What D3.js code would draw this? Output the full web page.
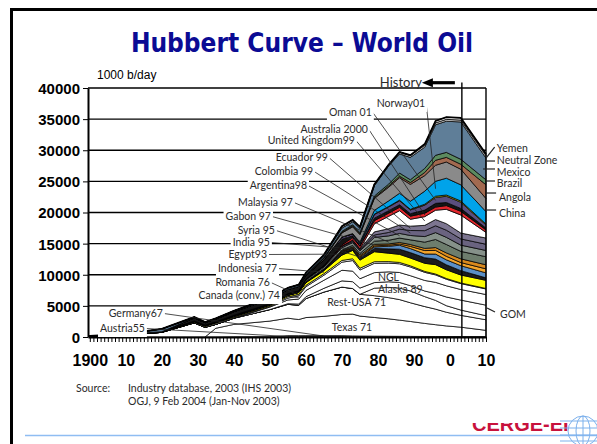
<!DOCTYPE html>
<html lang="en">
<head>
<meta charset="UTF-8">
<title>Hubbert Curve – World Oil</title>
<style>
  body { margin: 0; background: #fff; }
  svg { display: block; }
  .lbl { font-family: Lato, "DejaVu Sans Condensed", sans-serif; font-size: 10.5px; fill: #2b2b2b; }
  .axis text { font-family: "Liberation Sans", Arial, sans-serif; font-weight: bold; fill: #000; }
</style>
</head>
<body>
<svg id="chart" width="597" height="444"></svg>
<script src="https://d3js.org/d3.v7.min.js"></script>
<script>
// production in 1000 b/day
const years = [1900, 1910, 1920, 1929, 1932, 1935, 1940, 1950, 1955, 1958, 1960, 1965, 1970, 1973, 1975, 1979, 1983, 1986, 1989, 1993, 1996, 1999, 2003, 2010];

const austria   = [0, 0, 0, 0, 0, 0, 5, 30, 160, 130, 110, 90, 80, 60, 50, 40, 30, 30, 25, 20, 20, 20, 20, 20];
const germany   = [0, 0, 0, 5, 5, 10, 20, 30, 60, 80, 110, 130, 140, 120, 110, 100, 90, 80, 75, 65, 60, 60, 60, 50];
const texas     = [0, 0, 0, 0, 0, 1400, 2000, 2500, 2800, 2600, 2900, 3100, 3400, 3500, 3200, 3000, 2800, 2600, 2400, 2100, 1900, 1700, 1500, 1000];
const restUSA   = [100, 300, 750, 2265, 1550, 620, 995, 1850, 2230, 2280, 3050, 3900, 4400, 4100, 3500, 3500, 3400, 3300, 3000, 2700, 2500, 2200, 1900, 1700];
const alaska    = [0, 0, 0, 0, 0, 0, 0, 0, 0, 0, 0, 0, 0, 0, 0, 1200, 1650, 1850, 1900, 1600, 1400, 1050, 850, 650];
const gom       = [0, 0, 0, 0, 0, 0, 0, 0, 100, 200, 300, 600, 1000, 1100, 1000, 900, 900, 900, 850, 900, 1100, 1400, 1600, 1700];
const ngl       = [0, 0, 0, 0, 0, 0, 0, 400, 600, 800, 1000, 1300, 1700, 1700, 1500, 1600, 1600, 1600, 1600, 1700, 1800, 1800, 1700, 1700];
const canada    = [0, 10, 0, 5, 5, 5, 20, 100, 300, 500, 600, 800, 1300, 1700, 1400, 1500, 1400, 1400, 1400, 1300, 1200, 1050, 950, 900];
const romania   = [20, 30, 20, 100, 140, 170, 120, 90, 230, 230, 230, 250, 280, 290, 290, 260, 240, 220, 190, 150, 140, 120, 100, 80];

const indonesia = [40, 60, 50, 100, 100, 120, 150, 130, 200, 300, 420, 480, 850, 1340, 1300, 1600, 1350, 1300, 1250, 1300, 1500, 1400, 1280, 1300];
const egypt     = [0, 0, 0, 5, 5, 5, 20, 50, 40, 50, 60, 120, 330, 170, 240, 520, 700, 820, 870, 900, 900, 800, 700, 400];
const india     = [0, 10, 20, 20, 20, 20, 20, 10, 10, 20, 30, 60, 140, 150, 160, 250, 420, 640, 650, 600, 800, 800, 800, 800];
const syria     = [0, 0, 0, 0, 0, 0, 0, 0, 0, 0, 0, 0, 80, 110, 180, 170, 170, 200, 350, 550, 600, 560, 500, 650];
const gabon     = [0, 0, 0, 0, 0, 0, 0, 0, 0, 0, 20, 25, 110, 150, 220, 250, 200, 250, 300, 350, 450, 550, 600, 650];
const malaysia  = [0, 0, 0, 0, 0, 0, 0, 0, 10, 10, 100, 100, 150, 250, 280, 500, 600, 700, 750, 1000, 1300, 1350, 1200, 1300];
const argentina = [0, 0, 10, 30, 40, 40, 60, 70, 90, 100, 200, 270, 390, 420, 400, 600, 700, 750, 700, 900, 1100, 1150, 1000, 1000];
const colombia  = [0, 0, 0, 50, 45, 50, 70, 90, 110, 120, 160, 200, 220, 190, 160, 400, 550, 700, 800, 950, 1100, 1150, 1000, 1000];
const ecuador   = [0, 0, 0, 0, 0, 0, 0, 0, 10, 10, 10, 8, 55, 210, 160, 500, 600, 650, 700, 850, 1000, 1050, 940, 1000];

const uk          = [0, 0, 0, 0, 0, 0, 0, 0, 0, 0, 0, 2, 5, 10, 20, 1300, 2000, 2300, 1100, 1400, 1500, 2300, 2900, 900];
const australia   = [0, 0, 0, 0, 0, 0, 0, 0, 0, 0, 0, 10, 180, 390, 410, 500, 500, 550, 500, 550, 500, 600, 600, 400];
const other       = [0, 30, 0, 500, 400, 450, 600, 750, 700, 700, 600, 985, 900, 300, 100, 400, 400, 400, 400, 500, 600, 500, 450, 300];
const oman        = [0, 0, 0, 0, 0, 0, 0, 0, 0, 0, 0, 0, 330, 290, 340, 600, 600, 650, 600, 800, 950, 1000, 1000, 500];
const misc        = [0, 0, 0, 0, 0, 0, 0, 0, 0, 0, 0, 0, 20, 30, 30, 60, 80, 100, 100, 150, 200, 200, 200, 150];
const norway      = [0, 0, 0, 0, 0, 0, 0, 0, 0, 0, 0, 0, 0, 30, 190, 600, 900, 1100, 1300, 2100, 2400, 2700, 2600, 2000];
const china       = [0, 0, 0, 0, 0, 0, 0, 0, 0, 0, 100, 230, 650, 1090, 1200, 1900, 2200, 2500, 2700, 2500, 2570, 2600, 2500, 2100];
const angola      = [0, 0, 0, 0, 0, 0, 0, 0, 0, 0, 0, 15, 100, 160, 150, 150, 200, 250, 300, 500, 800, 750, 800, 2200];
const brazil      = [0, 0, 0, 0, 0, 0, 0, 0, 0, 0, 0, 95, 170, 170, 170, 250, 300, 500, 450, 650, 800, 800, 800, 800];
const mexico      = [0, 40, 450, 120, 90, 110, 120, 200, 250, 270, 300, 330, 520, 470, 700, 1650, 2920, 3060, 3600, 3415, 4910, 5000, 6000, 3500];
const neutralZone = [0, 0, 0, 0, 0, 0, 0, 0, 0, 0, 0, 100, 300, 300, 240, 200, 200, 300, 300, 300, 300, 300, 300, 400];
const yemen       = [0, 0, 0, 0, 0, 0, 0, 0, 0, 0, 0, 0, 0, 0, 0, 0, 0, 0, 50, 200, 300, 350, 350, 250];

const yTicks = [0, 5000, 10000, 15000, 20000, 25000, 30000, 35000, 40000];
const xTickYears = [1900, 1910, 1920, 1930, 1940, 1950, 1960, 1970, 1980, 1990, 2000, 2010];
const xTickLabels = ["1900", "10", "20", "30", "40", "50", "60", "70", "80", "90", "0", "10"];
const historyEnd = 2003.3;

const series = {austria, germany, texas, restUSA, alaska, gom, ngl, canada, romania,
  indonesia, egypt, india, syria, gabon, malaysia, argentina, colombia, ecuador,
  uk, australia, other, oman, misc, norway, china, angola, brazil, mexico, neutralZone, yemen};
const keys = Object.keys(series);

const layerColor = {
  austria: "#fff", germany: "#fff", texas: "#fff", restUSA: "#fff", alaska: "#fff",
  gom: "#fff", ngl: "#fff", canada: "#fff", romania: "#fff",
  indonesia: "#ffff00", egypt: "#1c1c1c", india: "#5b8fc6", syria: "#f4a52a", gabon: "#d98a1e",
  malaysia: "#6d7d6d", argentina: "#86918a", colombia: "#6a6380", ecuador: "#7c7590",
  uk: "#fff", australia: "#e3262c", other: "#151515", oman: "#5a4e7e", misc: "#e6df00",
  norway: "#00a3ea", china: "#8a8a8a", angola: "#a26a50", brazil: "#5c8b5f",
  mexico: "#5f7e98", neutralZone: "#c4c4c4", yemen: "#fff"
};

// label annotations: year / value of the text anchor, layer and year the leader points at
const leftLabels = [
  {text: "Oman 01", yr: 1978.3, val: 35500, key: "oman", at: 1996},
  {text: "Norway01", yr: 1993.1, val: 36950, key: "norway", at: 1996},
  {text: "Australia 2000", yr: 1977.2, val: 32770, key: "australia", at: 1993},
  {text: "United Kingdom99", yr: 1973.6, val: 31000, key: "uk", at: 1993},
  {text: "Ecuador 99", yr: 1966.1, val: 28270, key: "ecuador", at: 1989},
  {text: "Colombia 99", yr: 1962, val: 26020, key: "colombia", at: 1989},
  {text: "Argentina98", yr: 1960.3, val: 23780, key: "argentina", at: 1986},
  {text: "Malaysia 97", yr: 1956.4, val: 21040, key: "malaysia", at: 1983},
  {text: "Gabon 97", yr: 1950.3, val: 18800, key: "gabon", at: 1979},
  {text: "Syria 95", yr: 1951.4, val: 16550, key: "syria", at: 1975},
  {text: "India 95", yr: 1950, val: 14620, key: "india", at: 1973},
  {text: "Egypt93", yr: 1949.2, val: 12690, key: "egypt", at: 1970},
  {text: "Indonesia 77", yr: 1952, val: 10440, key: "indonesia", at: 1965},
  {text: "Romania 76", yr: 1950, val: 8190, key: "romania", at: 1958},
  {text: "Canada (conv.) 74", yr: 1952.8, val: 6100, key: "canada", at: 1958},
  {text: "Germany67", yr: 1920.3, val: 3210, key: "germany", at: 1965},
  {text: "Austria55", yr: 1915.3, val: 800, key: "austria", at: 1955}
];
const innerLabels = [
  {text: "NGL", yr: 1980, val: 9000},
  {text: "Alaska 89", yr: 1980, val: 7070},
  {text: "Rest-USA 71", yr: 1965.9, val: 4980},
  {text: "Texas 71", yr: 1967.2, val: 960}
];
const rightLabels = [
  {text: "Yemen", yr: 2013, val: 29720, from: [2010, 28750], to: [2012.4, 30520]},
  {text: "Neutral Zone", yr: 2013, val: 27780, from: [2010, 28270], to: [2012.5, 28270]},
  {text: "Mexico", yr: 2013, val: 25860, from: [2009.2, 26990], to: [2012.5, 26990]},
  {text: "Brazil", yr: 2013, val: 24100, from: [2010, 25060], to: [2012.5, 25060]},
  {text: "Angola", yr: 2013.6, val: 21850, from: [2010, 23130], to: [2012.8, 23130]},
  {text: "China", yr: 2013.6, val: 19280, from: [2010.2, 20400], to: [2012.8, 20400]},
  {text: "GOM", yr: 2013.9, val: 3050, from: [2010.3, 4660], to: [2012.5, 4020]}
];

const svg = d3.select("#chart");
const x = d3.scaleLinear().domain([1899.5, 2010]).range([88, 486]);
const y = d3.scaleLinear().domain([0, 40000]).range([337, 88]);

// slide frame
svg.append("line").attr("x1", 10).attr("x2", 597).attr("y1", 9.5).attr("y2", 9.5)
  .attr("stroke", "#000").attr("stroke-width", 3);
svg.append("line").attr("x1", 11.5).attr("x2", 11.5).attr("y1", 8).attr("y2", 444)
  .attr("stroke", "#000").attr("stroke-width", 3);

svg.append("text").attr("x", 302).attr("y", 52).attr("text-anchor", "middle")
  .style("font-family", "'DejaVu Sans Condensed', 'DejaVu Sans', sans-serif")
  .style("font-weight", "bold").style("font-size", "26px").style("fill", "#0b0b94")
  .text("Hubbert Curve – World Oil");

svg.append("text").attr("x", 97).attr("y", 79)
  .style("font-family", "'Liberation Sans', Arial, sans-serif").style("font-size", "12px")
  .text("1000 b/day");

// gridlines
svg.append("g").selectAll("line").data(yTicks.slice(1)).join("line")
  .attr("x1", x(1899.5)).attr("x2", x(2010))
  .attr("y1", d => y(d)).attr("y2", d => y(d))
  .attr("stroke", "#000").attr("stroke-width", 1.3);

// stacked layers
const rows = years.map((yr, i) => {
  const r = {year: yr};
  keys.forEach(k => { r[k] = series[k][i]; });
  return r;
});
const stacked = d3.stack().keys(keys)(rows);

const area = d3.area()
  .x(d => x(d.data.year))
  .y0(d => y(d[0]))
  .y1(d => y(d[1]));

svg.append("g").selectAll("path").data(stacked).join("path")
  .attr("d", area)
  .attr("fill", d => layerColor[d.key])
  .attr("stroke", "#000").attr("stroke-width", 0.75)
  .attr("stroke-linejoin", "round");

const topLayer = stacked[stacked.length - 1];
svg.append("path")
  .attr("d", d3.line().x(d => x(d.data.year)).y(d => y(d[1]))(topLayer))
  .attr("fill", "none").attr("stroke", "#000").attr("stroke-width", 1.8);

// history divider and right frame
svg.append("line").attr("x1", x(historyEnd)).attr("x2", x(historyEnd))
  .attr("y1", y(40900)).attr("y2", y(0)).attr("stroke", "#000").attr("stroke-width", 1.4);
svg.append("line").attr("x1", x(2010)).attr("x2", x(2010))
  .attr("y1", y(40000)).attr("y2", y(0)).attr("stroke", "#000").attr("stroke-width", 1.4);

const hx = x(historyEnd);
svg.append("line").attr("x1", hx - 7).attr("x2", hx - 32)
  .attr("y1", y(40850)).attr("y2", y(40850)).attr("stroke", "#000").attr("stroke-width", 3.2);
svg.append("path")
  .attr("d", `M${hx - 40},${y(40850)} L${hx - 29},${y(40850) - 4.5} L${hx - 29},${y(40850) + 4.5} Z`)
  .attr("fill", "#000");
svg.append("text").attr("class", "lbl").attr("x", hx - 40).attr("y", y(40150))
  .attr("text-anchor", "end").style("font-size", "13px").text("History");

// axes
const xMinor = d3.axisBottom(x).tickValues(d3.range(1900, 2011)).tickSize(5)
  .tickSizeOuter(0).tickFormat("");
svg.append("g").attr("class", "axis").attr("transform", `translate(0,${y(0)})`).call(xMinor)
  .call(g => g.select(".domain").attr("stroke-width", 2))
  .call(g => g.selectAll(".tick line").attr("stroke-width", 1));

const xLab = d3.axisBottom(x).tickValues(xTickYears).tickSize(0).tickPadding(18)
  .tickFormat((d, i) => xTickLabels[i]);
svg.append("g").attr("class", "axis").attr("transform", `translate(0,${y(0)})`).call(xLab)
  .call(g => g.select(".domain").remove())
  .call(g => g.selectAll("text").style("font-size", "16px"));

const yAx = d3.axisLeft(y).tickValues(yTicks).tickSize(5).tickSizeOuter(0).tickPadding(3)
  .tickFormat(d => String(d));
svg.append("g").attr("class", "axis").attr("transform", `translate(${x(1899.5)},0)`).call(yAx)
  .call(g => g.select(".domain").attr("stroke-width", 2))
  .call(g => g.selectAll("text").style("font-size", "15px").attr("dy", "0.36em"));

// leaders and labels
const layerMid = (key, yr) => {
  const s = stacked.find(l => l.key === key);
  const d = s[years.indexOf(yr)];
  return (d[0] + d[1]) / 2;
};
const leaders = svg.append("g");
const bgs = svg.append("g");
const texts = svg.append("g");

leftLabels.forEach(l => {
  const t = texts.append("text").attr("class", "lbl")
    .attr("x", x(l.yr)).attr("y", y(l.val)).attr("text-anchor", "end").text(l.text);
  const b = t.node().getBBox();
  bgs.append("rect").attr("x", b.x - 2).attr("y", b.y)
    .attr("width", b.width + 4).attr("height", b.height + 3).attr("fill", "#fff");
  leaders.append("line")
    .attr("x1", b.x + b.width + 1).attr("y1", y(l.val) - 3.5)
    .attr("x2", x(l.at)).attr("y2", y(layerMid(l.key, l.at)))
    .attr("stroke", "#222").attr("stroke-width", 0.8);
});

innerLabels.forEach(l => {
  texts.append("text").attr("class", "lbl")
    .attr("x", x(l.yr)).attr("y", y(l.val)).text(l.text);
});

rightLabels.forEach(l => {
  leaders.append("line")
    .attr("x1", x(l.from[0])).attr("y1", y(l.from[1]))
    .attr("x2", x(l.to[0])).attr("y2", y(l.to[1]))
    .attr("stroke", "#222").attr("stroke-width", 1.2);
  texts.append("text").attr("class", "lbl").style("font-size", "10.5px")
    .attr("x", x(l.yr)).attr("y", y(l.val)).text(l.text);
});

// source note
const src = svg.append("g").attr("class", "lbl").style("font-size", "10.5px");
src.append("text").attr("x", 76).attr("y", 392).text("Source:");
src.append("text").attr("x", 128).attr("y", 392).text("Industry database, 2003 (IHS 2003)");
src.append("text").attr("x", 128).attr("y", 405).text("OGJ, 9 Feb 2004 (Jan-Nov 2003)");

// footer rule and logo
svg.append("line").attr("x1", 25).attr("x2", 597).attr("y1", 435.5).attr("y2", 435.5)
  .attr("stroke", "#8fbdf2").attr("stroke-width", 1.3);
svg.append("clipPath").attr("id", "logoClip").append("rect")
  .attr("x", 440).attr("y", 423).attr("width", 160).attr("height", 30);
svg.append("text").attr("x", 472).attr("y", 431).attr("clip-path", "url(#logoClip)")
  .style("font-family", "'Liberation Sans', Arial, sans-serif").style("font-weight", "bold")
  .style("font-size", "20px").style("fill", "#c8123c").text("CERGE-EI");
const globe = svg.append("g").attr("fill", "none").attr("stroke", "#7db1ec").attr("stroke-width", 1);
globe.append("circle").attr("cx", 583).attr("cy", 431).attr("r", 15);
globe.append("ellipse").attr("cx", 583).attr("cy", 431).attr("rx", 7).attr("ry", 15);
globe.append("line").attr("x1", 583).attr("x2", 583).attr("y1", 416).attr("y2", 446);
[421, 428, 435, 441].forEach(v => {
  globe.append("line").attr("x1", 560).attr("x2", 597).attr("y1", v).attr("y2", v);
});
</script>
</body>
</html>
